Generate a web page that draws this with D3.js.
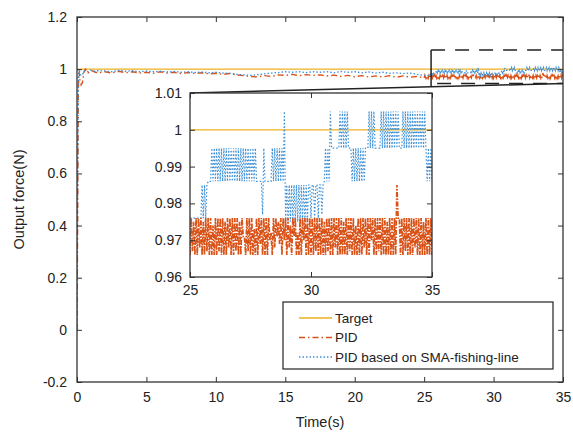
<!DOCTYPE html>
<html><head><meta charset="utf-8">
<script src="https://cdn.jsdelivr.net/npm/d3@7"></script>
<style>body{margin:0;background:#fff}svg{display:block;font-family:"Liberation Sans",Arial,sans-serif}</style>
</head><body><svg id="c" width="573" height="433"></svg>
<script>
// ---------- data ----------
const seriesNames = ["Target", "PID", "PID based on SMA-fishing-line"];
const targetValue = 1;
const xTicksMain = [0, 5, 10, 15, 20, 25, 30, 35];
const yTicksMain = [-0.2, 0, 0.2, 0.4, 0.6, 0.8, 1, 1.2];
const yTickLabelsMain = ["-0.2", "0", "0.2", "0.4", "0.6", "0.8", "1", "1.2"];
const xTicksInset = [25, 30, 35];
const yTicksInset = [0.96, 0.97, 0.98, 0.99, 1, 1.01];
const yTickLabelsInset = ["0.96", "0.97", "0.98", "0.99", "1", "1.01"];
const zoomBoxT = [25.5, 35];
const zoomBoxF = [0.945, 1.073];

// coarse samples 0–24.5 s
const timeEarly = [0,0.05,0.1,0.15,0.2,0.3,0.4,0.5,0.6,0.8,1,1.25,1.5,
  2,2.5,3,3.5,4,4.5,5,5.5,6,6.5,7,7.5,8,8.5,9,9.5,10,10.5,11,11.5,12,12.5,
  13,13.5,14,14.5,15,15.5,16,16.5,17,17.5,18,18.5,19,19.5,20,20.5,21,21.5,
  22,22.5,23,23.5,24,24.5];
const pidEarly = [0,0.45,0.93,0.99,0.96,0.94,0.95,0.99,1.0,0.985,0.995,0.99,0.985,
  0.99,0.985,0.992,0.986,0.99,0.985,0.988,0.984,0.99,0.985,0.988,0.983,0.987,0.984,0.986,0.982,
  0.984,0.98,0.983,0.978,0.975,0.972,0.97,0.975,0.972,0.978,0.976,0.98,0.975,0.979,0.976,0.978,
  0.974,0.977,0.972,0.976,0.971,0.975,0.97,0.974,0.97,0.975,0.969,0.974,0.969,0.972];
const smaEarly = [0,0.6,0.97,1.0,0.985,0.975,0.98,0.99,0.995,0.99,0.996,0.992,0.994,
  0.993,0.99,0.995,0.992,0.994,0.99,0.993,0.99,0.992,0.989,0.991,0.988,0.99,0.987,0.989,0.986,
  0.988,0.985,0.984,0.98,0.978,0.976,0.979,0.982,0.985,0.987,0.99,0.988,0.99,0.987,0.99,0.988,
  0.99,0.986,0.991,0.988,0.99,0.986,0.989,0.985,0.988,0.984,0.986,0.983,0.985,0.98];

// dense samples 25–35 s, every 0.05 s
const tStartDense = 25, tStepDense = 0.05;
const pidDense = [
 0.966,0.976,0.967,0.975,0.966,0.976,0.966,0.976,0.968,0.976,0.966,0.975,0.966,0.976,0.967,0.976,0.966,0.976,0.966,0.974,
 0.966,0.976,0.966,0.976,0.967,0.976,0.966,0.976,0.966,0.975,0.966,0.976,0.968,0.976,0.966,0.976,0.966,0.976,0.967,0.976,
 0.966,0.975,0.966,0.976,0.971,0.971,0.966,0.976,0.967,0.976,0.966,0.976,0.966,0.973,0.966,0.976,0.966,0.976,0.969,0.976,
 0.966,0.976,0.966,0.976,0.966,0.976,0.970,0.972,0.966,0.976,0.968,0.976,0.971,0.975,0.969,0.976,0.966,0.976,0.970,0.976,
 0.966,0.976,0.968,0.974,0.966,0.976,0.971,0.976,0.966,0.972,0.966,0.976,0.966,0.976,0.970,0.976,0.966,0.976,0.966,0.976,
 0.966,0.976,0.966,0.976,0.967,0.976,0.966,0.976,0.966,0.976,0.966,0.975,0.966,0.976,0.967,0.976,0.966,0.976,0.966,0.976,
 0.968,0.976,0.966,0.976,0.966,0.976,0.966,0.975,0.966,0.976,0.966,0.976,0.967,0.976,0.966,0.976,0.966,0.974,0.966,0.976,
 0.966,0.976,0.966,0.976,0.968,0.976,0.966,0.976,0.966,0.976,0.970,0.976,0.966,0.976,0.966,0.976,0.967,0.976,0.966,0.976,
 0.966,0.976,0.966,0.975,0.966,0.976,0.966,0.976,0.966,0.976,0.966,0.985,0.976,0.976,0.966,0.976,0.966,0.976,0.967,0.976,
 0.966,0.976,0.966,0.976,0.966,0.976,0.968,0.976,0.966,0.976,0.966,0.976,0.966,0.975,0.966,0.976,0.966,0.976,0.966,0.976,
 0.966];
const smaDense = [
 0.976,0.976,0.976,0.976,0.976,0.976,0.976,0.976,0.976,0.976,0.985,0.976,0.985,0.976,0.985,0.986,0.986,0.986,0.995,0.986,
 0.995,0.986,0.995,0.986,0.995,0.986,0.995,0.986,0.995,0.986,0.995,0.986,0.995,0.986,0.995,0.986,0.995,0.986,0.995,0.986,
 0.995,0.986,0.995,0.986,0.995,0.986,0.995,0.986,0.995,0.986,0.995,0.986,0.995,0.986,0.995,0.986,0.986,0.986,0.986,0.986,
 0.977,0.995,0.986,0.986,0.986,0.986,0.986,0.986,0.995,0.986,0.995,0.986,0.995,0.986,0.995,0.986,0.995,0.986,1.005,0.975,
 0.985,0.975,0.985,0.975,0.985,0.975,0.985,0.975,0.985,0.975,0.985,0.975,0.985,0.975,0.985,0.975,0.985,0.975,0.985,0.985,
 0.976,0.985,0.985,0.976,0.985,0.985,0.976,0.985,0.985,0.977,0.985,0.986,0.995,0.986,0.995,0.986,1.005,0.995,0.995,0.995,
 0.995,0.995,0.995,0.995,1.005,0.995,1.005,0.995,1.005,0.995,1.005,0.995,0.995,0.995,0.986,0.995,0.986,0.995,0.986,0.995,
 0.986,0.995,0.986,0.995,0.986,0.995,0.995,0.995,1.005,0.995,1.005,0.995,1.005,0.995,0.995,0.995,0.995,0.995,1.005,0.995,
 1.005,0.995,1.005,0.995,1.005,0.995,1.005,0.995,1.005,0.995,1.005,0.995,1.005,0.995,0.995,0.995,1.005,0.995,1.005,0.995,
 1.005,0.995,1.005,0.995,1.005,0.995,1.005,0.995,1.005,0.995,1.005,0.995,1.005,0.995,1.005,0.995,0.986,0.995,0.986,0.995,
 0.986];

// ---------- build ----------
const denseT = pidDense.map((_, i) => tStartDense + i * tStepDense);
const pidAll = timeEarly.map((t, i) => [t, pidEarly[i]]).concat(denseT.map((t, i) => [t, pidDense[i]]));
const smaAll = timeEarly.map((t, i) => [t, smaEarly[i]]).concat(denseT.map((t, i) => [t, smaDense[i]]));
const pidIn = denseT.map((t, i) => [t, pidDense[i]]);
const smaIn = denseT.map((t, i) => [t, smaDense[i]]);

const colors = {target: "#EDB120", pid: "#D95319", sma: "#3C8FD6"};
const axisColor = "#333", textColor = "#222";
const svg = d3.select("#c");

const x = d3.scaleLinear([0, 35], [77, 563]);
const y = d3.scaleLinear([-0.2, 1.2], [382, 17]);
const xi = d3.scaleLinear([25, 35], [190, 432]);
const yi = d3.scaleLinear([0.96, 1.01], [277, 93]);

svg.append("defs").append("clipPath").attr("id", "cm").append("rect")
  .attr("x", x(0)).attr("y", y(1.2)).attr("width", x(35) - x(0)).attr("height", y(-0.2) - y(1.2));
svg.select("defs").append("clipPath").attr("id", "ci").append("rect")
  .attr("x", xi(25)).attr("y", yi(1.01)).attr("width", xi(35) - xi(25)).attr("height", yi(0.96) - yi(1.01));

function styleAxis(g, fs) {
  g.select(".domain").remove();
  g.selectAll(".tick line").attr("stroke", axisColor).attr("stroke-width", 1);
  g.selectAll(".tick text").attr("fill", textColor).attr("font-size", fs).attr("font-family", '"Liberation Sans",Arial,sans-serif');
}
function drawAxes(xs, ys, xt, yt, ylab, fs, pad) {
  const [x0, x1] = xs.range(), [y0, y1] = ys.range();
  svg.append("g").attr("transform", `translate(0,${y0})`)
    .call(d3.axisBottom(xs).tickValues(xt).tickFormat(d3.format("d")).tickSizeInner(-5).tickSizeOuter(0).tickPadding(pad))
    .call(g => styleAxis(g, fs));
  svg.append("g").attr("transform", `translate(0,${y1})`)
    .call(d3.axisTop(xs).tickValues(xt).tickFormat("").tickSizeInner(-5).tickSizeOuter(0))
    .call(g => styleAxis(g, fs));
  svg.append("g").attr("transform", `translate(${x0},0)`)
    .call(d3.axisLeft(ys).tickValues(yt).tickFormat((d, i) => ylab[i]).tickSizeInner(-5).tickSizeOuter(0).tickPadding(pad))
    .call(g => styleAxis(g, fs));
  svg.append("g").attr("transform", `translate(${x1},0)`)
    .call(d3.axisRight(ys).tickValues(yt).tickFormat("").tickSizeInner(-5).tickSizeOuter(0))
    .call(g => styleAxis(g, fs));
  svg.append("rect").attr("x", x0).attr("y", y1).attr("width", x1 - x0).attr("height", y0 - y1)
    .attr("fill", "none").attr("stroke", axisColor).attr("stroke-width", 1.3);
}

// main plot
const lm = d3.line().x(d => x(d[0])).y(d => y(d[1]));
const gm = svg.append("g").attr("clip-path", "url(#cm)");
gm.append("line").attr("x1", x(0)).attr("x2", x(35)).attr("y1", y(targetValue)).attr("y2", y(targetValue))
  .attr("stroke", colors.target).attr("stroke-width", 1.3);
gm.append("path").datum(pidAll).attr("d", lm).attr("fill", "none").attr("stroke", colors.pid)
  .attr("stroke-width", 1.4).attr("stroke-dasharray", "6,3,1.5,3");
gm.append("path").datum(smaAll).attr("d", lm).attr("fill", "none").attr("stroke", colors.sma)
  .attr("stroke-width", 1.3).attr("stroke-dasharray", "1.5,2");
drawAxes(x, y, xTicksMain, yTicksMain, yTickLabelsMain, "14px", 10);

// zoom box + connector
svg.append("line").attr("x1", x(zoomBoxT[0])).attr("x2", x(zoomBoxT[1])).attr("y1", y(zoomBoxF[1])).attr("y2", y(zoomBoxF[1]))
  .attr("stroke", "#222").attr("stroke-width", 1.5).attr("stroke-dasharray", "14,10");
svg.append("line").attr("x1", x(zoomBoxT[0]) + 6).attr("x2", x(zoomBoxT[1])).attr("y1", y(zoomBoxF[0])).attr("y2", y(zoomBoxF[0]))
  .attr("stroke", "#222").attr("stroke-width", 1.5).attr("stroke-dasharray", "14,10");
svg.append("line").attr("x1", x(zoomBoxT[0])).attr("x2", x(zoomBoxT[0])).attr("y1", y(zoomBoxF[1])).attr("y2", y(zoomBoxF[0]) + 3)
  .attr("stroke", "#222").attr("stroke-width", 1.5);
svg.append("line").attr("x1", xi(25)).attr("y1", yi(1.01)).attr("x2", x(zoomBoxT[1])).attr("y2", y(zoomBoxF[0]))
  .attr("stroke", "#222").attr("stroke-width", 1.5);

// inset
svg.append("rect").attr("x", xi(25)).attr("y", yi(1.01)).attr("width", xi(35) - xi(25)).attr("height", yi(0.96) - yi(1.01)).attr("fill", "#fff");
const li = d3.line().x(d => xi(d[0])).y(d => yi(d[1]));
const gi = svg.append("g").attr("clip-path", "url(#ci)");
gi.append("line").attr("x1", xi(25)).attr("x2", xi(35)).attr("y1", yi(targetValue)).attr("y2", yi(targetValue))
  .attr("stroke", colors.target).attr("stroke-width", 1.3);
gi.append("path").datum(smaIn).attr("d", li).attr("fill", "none").attr("stroke", colors.sma)
  .attr("stroke-width", 1.2).attr("stroke-dasharray", "1.5,2");
gi.append("path").datum(pidIn).attr("d", li).attr("fill", "none").attr("stroke", colors.pid)
  .attr("stroke-width", 1.7).attr("stroke-dasharray", "5,1.5,1.5,1.5");
drawAxes(xi, yi, xTicksInset, yTicksInset, yTickLabelsInset, "14px", 8);

// axis titles
svg.append("text").attr("x", x(17.5)).attr("y", 427).attr("text-anchor", "middle")
  .attr("font-size", "14.5px").attr("fill", textColor).text("Time(s)");
svg.append("text").attr("transform", `translate(24,${y(0.5)}) rotate(-90)`).attr("text-anchor", "middle")
  .attr("font-size", "14.5px").attr("fill", textColor).text("Output force(N)");

// legend
const lg = svg.append("g");
lg.append("rect").attr("x", 283).attr("y", 302).attr("width", 270).attr("height", 67)
  .attr("fill", "#fff").attr("stroke", "#222").attr("stroke-width", 1.2);
const legendStyles = [
  {c: colors.target, d: null}, {c: colors.pid, d: "6,3,1.5,3"}, {c: colors.sma, d: "1.5,2"}];
seriesNames.forEach((n, i) => {
  const yy = 318 + i * 19.5;
  lg.append("line").attr("x1", 299).attr("x2", 332).attr("y1", yy).attr("y2", yy)
    .attr("stroke", legendStyles[i].c).attr("stroke-width", 1.3).attr("stroke-dasharray", legendStyles[i].d);
  lg.append("text").attr("x", 335).attr("y", yy + 4.5).attr("font-size", "13.5px").attr("fill", textColor).text(n);
});
</script></body></html>
